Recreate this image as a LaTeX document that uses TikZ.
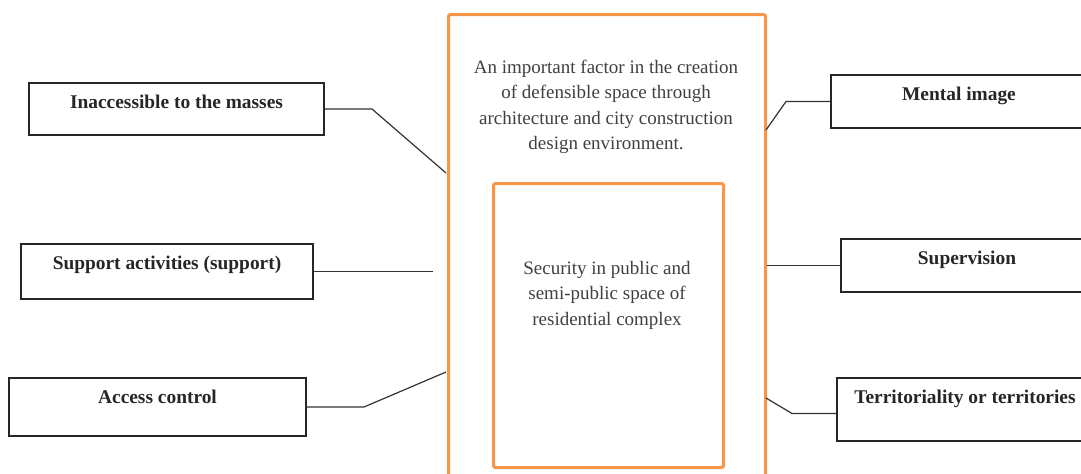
\documentclass[tikz,border=0pt]{standalone}
\usepackage{tikz}
\usepackage{fontspec}
\setmainfont{Liberation Serif}
\definecolor{frameorange}{HTML}{F79646}
\tikzset{
	sidebox/.style = {draw = black!85, line width = 1pt, inner sep = 0pt, text height = 12.5pt, font = \bfseries\fontsize{9.7}{12}\selectfont, text = black!85},
	framebox/.style = {draw = frameorange, line width = 1.5pt, rounded corners = 1pt, inner sep = 0pt},
	link/.style = {draw = black!80, line width = 0.6pt},
	boxtext/.style = {align = center, font = \fontsize{9.5}{12.75}\selectfont, text = black!75}
}

\begin{document}
\begin{tikzpicture}[x = 0.5pt, y = -0.5pt]
				\useasboundingbox (0,0) rectangle (1081,473);
				\clip (0,0) rectangle (1081,473);
				%
				\node (outer)[framebox, anchor = north west, minimum width = 158.5pt, minimum height = 250pt] at (447,13){};
				\node (outertxt)[boxtext] at (606,107){An important factor in the creation\\of defensible space through\\architecture and city construction\\design environment.};
				\node (inner)[framebox, anchor = north west, minimum width = 115pt, minimum height = 142pt] at (492,182){};
				\node (innertxt)[boxtext] at (607,295){Security in public and\\semi-public space of\\residential complex};
				%
				\node (inacc)[sidebox, anchor = north west, minimum width = 147.5pt, text depth = 13.5pt] at (28,82){Inaccessible to the masses};
				\node (support)[sidebox, anchor = north west, minimum width = 146pt, text depth = 15pt] at (20,243){Support activities (support)};
				\node (access)[sidebox, anchor = north west, minimum width = 148.5pt, text depth = 16.5pt] at (8,377){Access control};
				%
				\node (mental)[sidebox, anchor = north west, minimum width = 128pt, text depth = 14pt] at (830,74){Mental image};
				\node (superv)[sidebox, anchor = north west, minimum width = 126pt, text depth = 14pt] at (840,238){Supervision};
				\node (territ)[sidebox, anchor = north west, minimum width = 128pt, text depth = 19pt] at (836,377){Territoriality or territories};
				%
				\coordinate (inaccend) at (446,173);
				\coordinate (supportend) at (433,272);
				\coordinate (accessend) at (446,372);
				\coordinate (mentalend) at (766,130);
				\coordinate (territend) at (766,398);
				%
				\draw[link] (inacc.east) -- ++(47,0) -- (inaccend);
				\draw[link] (support.east) -- (support.east -| supportend);
				\draw[link] (access.east) -- ++(57,0) -- (accessend);
				\draw[link] (mental.west) -- ++(-44,0) -- (mentalend);
				\draw[link] (superv.west) -- (superv.west -| outer.east);
				\draw[link] ([yshift = -2pt]territ.west) -- ++(-44,0) -- (territend);
			\end{tikzpicture}
\end{document}
